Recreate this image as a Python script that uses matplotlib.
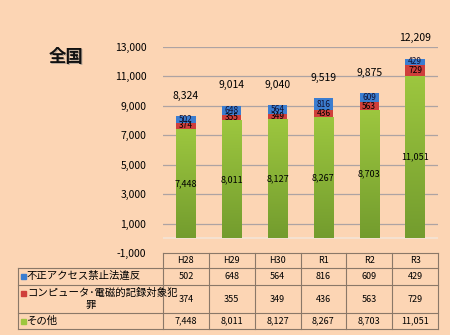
import matplotlib.pyplot as plt
import matplotlib.patches as mpatches
import numpy as np
from matplotlib.colors import LinearSegmentedColormap

plt.rcParams["font.family"] = ["Noto Sans CJK JP", "DejaVu Sans"]

years = ["H28", "H29", "H30", "R1", "R2", "R3"]
fusei = [502, 648, 564, 816, 609, 429]
computer = [374, 355, 349, 436, 563, 729]
sonota = [7448, 8011, 8127, 8267, 8703, 11051]
totals = [8324, 9014, 9040, 9519, 9875, 12209]
series_names = ["不正アクセス禁止法違反", "コンピュータ･電磁的記録対象犯\n罪", "その他"]

bg = "#FCD5B4"
blue = "#3B7DD0"
red = "#CF3F3B"
green_top = "#9DC73F"
green_bot = "#739C2E"
line_col = "#8A7868"

W, H = 450, 335
fig = plt.figure(figsize=(4.5, 3.35), dpi=100, facecolor=bg)


def fx(px):
    return px / W


def fy(py):
    return 1 - py / H


ax = fig.add_axes([fx(163), fy(253), fx(438 - 163), fy(47) - fy(253)])
ax.set_facecolor("none")
ax.set_yticks(range(-1000, 13001, 2000))
ax.set_yticklabels([f"{v:,}" for v in range(-1000, 13001, 2000)], fontsize=7.5)
ax.tick_params(axis="y", length=0, pad=12)
ax.set_xticks([])
for s in ax.spines.values():
    s.set_visible(False)
for v in range(1000, 13001, 2000):
    ax.axhline(v, color="#ADA3A3", lw=0.9, zorder=0)
ax.axhline(0, color="#F3E4D6", lw=1.2, zorder=0)

x = np.arange(len(years))
bw = 0.42
gbars = ax.bar(x, sonota, bw, color="none", zorder=2)
ax.bar(x, computer, bw, bottom=sonota, color=red, zorder=2)
ax.bar(x, fusei, bw, bottom=np.array(sonota) + np.array(computer), color=blue, zorder=2)

# gradient fill for the green segments
cmap = LinearSegmentedColormap.from_list("g", [green_bot, green_top])
grad = np.linspace(0, 1, 256).reshape(-1, 1)
for b in gbars:
    x0, y0 = b.get_x(), b.get_y()
    im = ax.imshow(grad, cmap=cmap, aspect="auto", origin="lower",
                   extent=[x0, x0 + b.get_width(), y0, y0 + b.get_height()], zorder=1.9)
    im.set_clip_path(b)
ax.set_xlim(-0.5, len(years) - 0.5)
ax.set_ylim(-1000, 13000)

for i in range(len(years)):
    ax.text(x[i], sonota[i] / 2, f"{sonota[i]:,}", ha="center", va="center", fontsize=6.5, zorder=3)
    ax.text(x[i], sonota[i] + computer[i] / 2, f"{computer[i]:,}", ha="center", va="center",
            fontsize=6, zorder=3)
    ax.text(x[i], sonota[i] + computer[i] + fusei[i] / 2, f"{fusei[i]:,}", ha="center",
            va="center", fontsize=6, color="#111133", zorder=3)
    ax.annotate(f"{totals[i]:,}", (x[i], totals[i]), xytext=(0, 11), textcoords="offset points",
                ha="center", va="bottom", fontsize=7.5, annotation_clip=False)

# title
fig.text(fx(66) + 0.0022, fy(57) - 0.003, "全国", ha="center", va="center", fontsize=12.5,
         fontweight="bold", color="#B8A898")
fig.text(fx(66), fy(57), "全国", ha="center", va="center", fontsize=12.5, fontweight="bold",
         color="#111111")

# data table
tab = fig.add_axes([0, 0, 1, 1], facecolor="none")
tab.set_xlim(0, W)
tab.set_ylim(H, 0)
tab.axis("off")
col_edges = np.linspace(163, 438, len(years) + 1)
row_edges = [253, 268, 285, 313, 329]
for cx in col_edges:
    tab.plot([cx, cx], [row_edges[0], row_edges[-1]], color=line_col, lw=0.8)
tab.plot([18, 18], [row_edges[1], row_edges[-1]], color=line_col, lw=0.8)
tab.plot([163, 438], [row_edges[0]] * 2, color=line_col, lw=0.8)
for ry in row_edges[1:]:
    tab.plot([18, 438], [ry, ry], color=line_col, lw=0.8)

centers = (col_edges[:-1] + col_edges[1:]) / 2
for i, yr in enumerate(years):
    tab.text(centers[i], (row_edges[0] + row_edges[1]) / 2, yr, ha="center", va="center", fontsize=6.5)

rows = [fusei, computer, sonota]
colors = [blue, red, green_top]
for r, vals in enumerate(rows):
    cy = (row_edges[r + 1] + row_edges[r + 2]) / 2
    for i, v in enumerate(vals):
        tab.text(centers[i], cy, f"{v:,}", ha="center", va="center", fontsize=6.5)
    ty = row_edges[r + 1] + 8
    tab.add_patch(mpatches.Rectangle((21, ty - 2.5), 5, 5, color=colors[r]))
    name = series_names[r]
    if "\n" in name:
        first, second = name.split("\n")
        tab.text(27, ty, first, ha="left", va="center", fontsize=7.5)
        tab.text(91, ty + 12, second, ha="center", va="center", fontsize=7.5)
    else:
        tab.text(27, ty, name, ha="left", va="center", fontsize=7.5)

fig.savefig("out.png", dpi=100, facecolor=bg)
